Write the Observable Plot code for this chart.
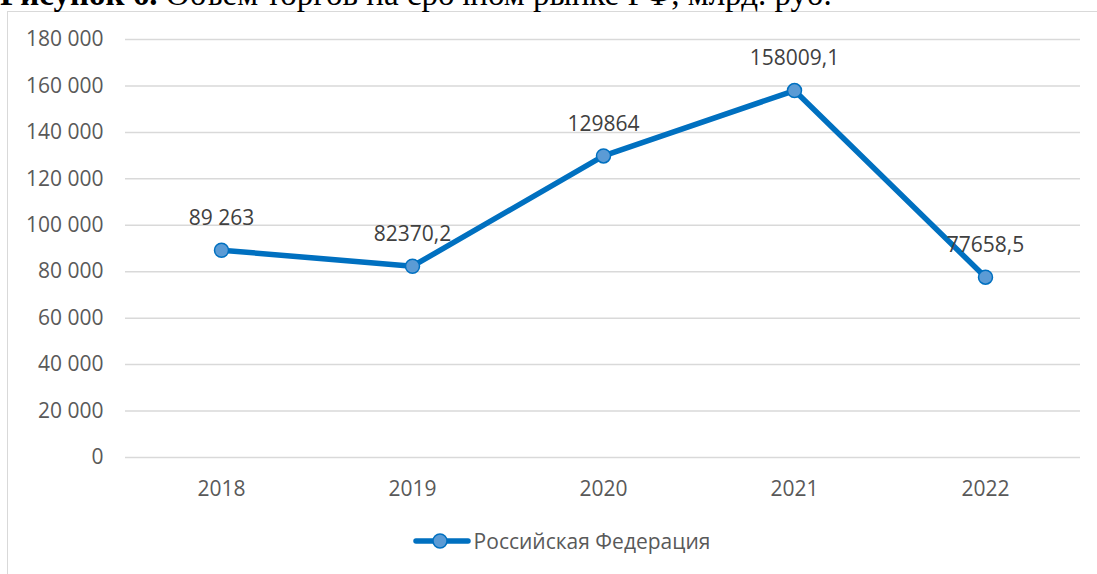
<!DOCTYPE html>
<html>
<head>
<meta charset="utf-8">
<script src="https://cdn.jsdelivr.net/npm/d3@7"></script>
<script src="https://cdn.jsdelivr.net/npm/@observablehq/plot@0.6"></script>
<style>
  html, body { margin: 0; padding: 0; background: #fff; overflow: hidden; }
  #page { position: relative; width: 1097px; height: 574px; overflow: hidden; font-family: "Open Sans", sans-serif; }
  #title { position: absolute; left: 0; top: -22px; font-family: "Liberation Serif", "Times New Roman", serif; font-size: 33px; line-height: 1; color: #000; white-space: nowrap; }
  #frame { position: absolute; left: 7px; top: 11px; width: 1200px; height: 700px; border: 1.5px solid #d9d9d9; box-sizing: border-box; }
  #chart { position: absolute; left: 0; top: 0; }
  #legend { position: absolute; left: 13px; width: 1097px; top: 527px; display: flex; justify-content: center; align-items: center; font-size: 21px; color: #595959; }
  #legend svg { margin-right: 3px; }
</style>
</head>
<body>
<div id="page">
  <div id="frame"></div>
  <div id="title"><b>Рисунок 6.</b> Объем торгов на срочном рынке РФ, млрд. руб.</div>
  <div id="chart"></div>
  <div id="legend"></div>
</div>
<script>
const years = ["2018", "2019", "2020", "2021", "2022"];
const values = [89263, 82370.2, 129864, 158009.1, 77658.5];
const valueLabels = ["89 263", "82370,2", "129864", "158009,1", "77658,5"];
const yTicks = [0, 20000, 40000, 60000, 80000, 100000, 120000, 140000, 160000, 180000];
const seriesName = "Российская Федерация";

const data = years.map((y, i) => ({year: y, value: values[i], label: valueLabels[i]}));
const fmt = d3.formatLocale({thousands: " ", grouping: [3], decimal: ","}).format(",");

const lineColor = "#0070C0";
const markerFill = "#5B9BD5";

const chart = Plot.plot({
  width: 1097,
  height: 510,
  marginLeft: 125,
  marginRight: 17,
  marginTop: 39,
  marginBottom: 53,
  style: {fontFamily: "Open Sans, sans-serif", fontSize: "21px", background: "transparent", color: "#595959"},
  x: {type: "point", domain: years, padding: 0.5, label: null},
  y: {domain: [0, 180000], label: null},
  marks: [
    Plot.ruleY(yTicks, {stroke: "#d9d9d9", strokeWidth: 1.5}),
    Plot.axisY({ticks: yTicks, tickSize: 0, tickPadding: 22, tickFormat: fmt, fill: "#595959", fontSize: 21, label: null}),
    Plot.axisX({tickSize: 0, tickPadding: 24, fill: "#595959", fontSize: 21, label: null}),
    Plot.line(data, {x: "year", y: "value", stroke: lineColor, strokeWidth: 5.5, strokeLinejoin: "round", strokeLinecap: "round"}),
    Plot.dot(data, {x: "year", y: "value", r: 7, fill: markerFill, stroke: lineColor, strokeWidth: 1.5}),
    Plot.text(data, {x: "year", y: "value", text: "label", dy: -32, fill: "#404040", fontSize: 21})
  ]
});
document.getElementById("chart").appendChild(chart);

const legend = document.getElementById("legend");
const ns = "http://www.w3.org/2000/svg";
const sw = document.createElementNS(ns, "svg");
sw.setAttribute("width", 58); sw.setAttribute("height", 20);
const ln = document.createElementNS(ns, "line");
ln.setAttribute("x1", 3); ln.setAttribute("x2", 55); ln.setAttribute("y1", 10); ln.setAttribute("y2", 10);
ln.setAttribute("stroke", lineColor); ln.setAttribute("stroke-width", 5.5); ln.setAttribute("stroke-linecap", "round");
const c = document.createElementNS(ns, "circle");
c.setAttribute("cx", 27); c.setAttribute("cy", 10); c.setAttribute("r", 7);
c.setAttribute("fill", markerFill); c.setAttribute("stroke", lineColor); c.setAttribute("stroke-width", 1.5);
sw.appendChild(ln); sw.appendChild(c);
legend.appendChild(sw);
const span = document.createElement("span");
span.textContent = seriesName;
legend.appendChild(span);
</script>
</body>
</html>
